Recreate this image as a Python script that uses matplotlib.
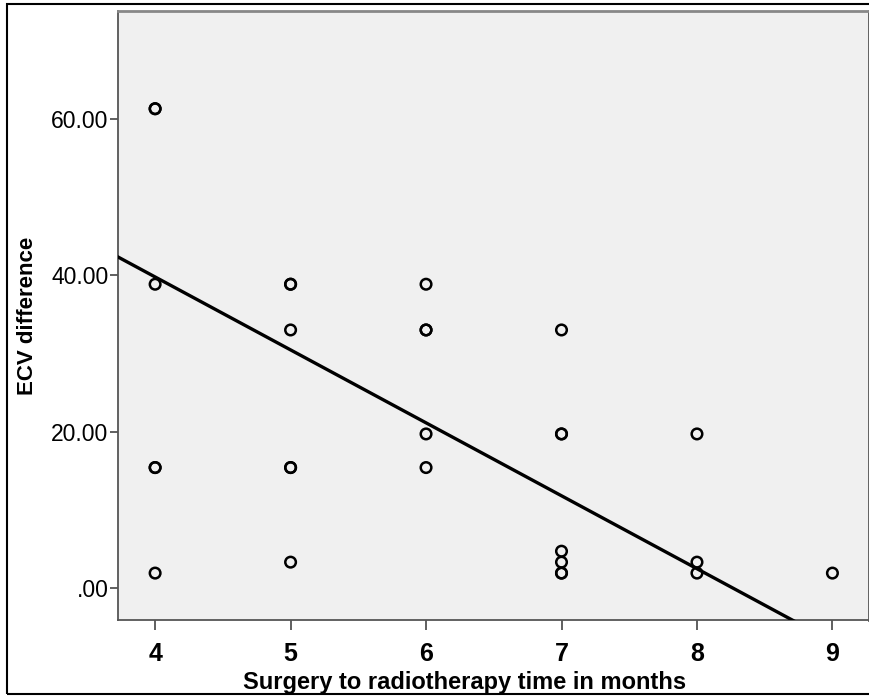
import matplotlib.pyplot as plt
import numpy as np
from matplotlib.patches import Rectangle

# scatter data (repeats = overlapping bold circles)
months = [4, 4, 4, 4, 4, 4,
          5, 5, 5, 5, 5, 5,
          6, 6, 6, 6, 6,
          7, 7, 7, 7, 7, 7, 7,
          8, 8, 8,
          9]
ecv_diff = [61.3, 61.3, 38.85, 15.4, 15.4, 1.9,
            38.85, 38.85, 33.0, 15.4, 15.4, 3.3,
            38.85, 33.0, 33.0, 19.7, 15.4,
            33.0, 19.7, 19.7, 4.7, 3.3, 1.9, 1.9,
            19.7, 3.3, 1.9,
            1.9]

# fit line as drawn in the reference
fit_slope = -9.33
fit_intercept = 77.1

x_ticks = [4, 5, 6, 7, 8, 9]
y_ticks = [0, 20, 40, 60]
y_ticklabels = ['.00', '20.00', '40.00', '60.00']

fig = plt.figure(figsize=(8.7, 6.96), dpi=100)
ax = fig.add_axes([118 / 870, 1 - 620 / 696, (869 - 118) / 870, (620 - 11) / 696])
ax.set_facecolor('#f0f0f0')

ax.scatter(months, ecv_diff, s=58, facecolors='none', edgecolors='black',
           linewidths=1.8, zorder=3)

xlim = (3.726, 9.27)
ylim = (-4.1, 73.8)
xs = np.array(xlim)
ax.plot(xs, fit_intercept + fit_slope * xs, color='black', lw=2.4, zorder=4)

ax.set_xlim(*xlim)
ax.set_ylim(*ylim)

ax.set_xticks(x_ticks)
ax.set_xticklabels([str(t) for t in x_ticks], family='Liberation Sans',
                   fontweight='bold', fontsize=18)
ax.set_yticks(y_ticks)
ax.set_yticklabels(y_ticklabels, family='Liberation Sans', fontsize=16.5)
ax.tick_params(axis='x', direction='out', length=7, width=1.2, color='#444444', pad=9)
ax.tick_params(axis='y', direction='out', length=6, width=1.2, color='#444444', pad=1)

for side in ['left', 'bottom', 'right']:
    ax.spines[side].set_color('#555555')
    ax.spines[side].set_linewidth(1.3)
ax.spines['top'].set_color('#888888')
ax.spines['top'].set_linewidth(2)
ax.spines['right'].set_linewidth(2)

ax.set_xlabel('Surgery to radiotherapy time in months', family='Liberation Sans',
              fontweight='bold', fontsize=17)
ax.xaxis.set_label_coords(0.461, -0.084)
ax.set_ylabel('ECV difference', family='Liberation Sans', fontweight='bold',
              fontsize=16)
ax.yaxis.set_label_coords(-0.107, 0.5)

# outer frame around the whole chart
fig.patches.append(Rectangle((7 / 870, 2 / 696), 870 / 870, 690 / 696,
                             transform=fig.transFigure, fill=False,
                             edgecolor='black', linewidth=1.5, zorder=0))

fig.savefig('out.png', dpi=100)
